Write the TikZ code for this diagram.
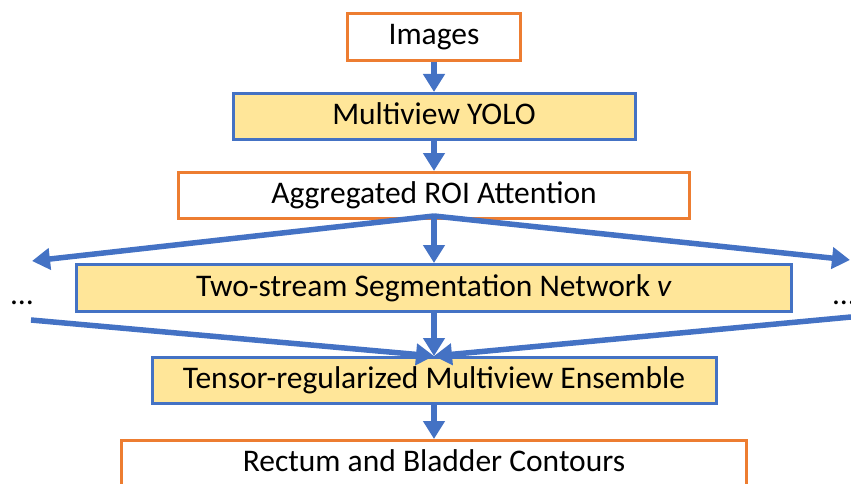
\documentclass[tikz,border=0pt]{standalone}
\usepackage{fontspec}
\setmainfont{Carlito}
\usetikzlibrary{arrows.meta,positioning,calc}
\definecolor{lineblue}{HTML}{4472C4}
\definecolor{edgeorange}{HTML}{ED7D31}
\definecolor{goldfill}{HTML}{FFE699}
\tikzset{
  wblk/.style={draw=edgeorange, fill=white, rectangle, line width=3pt, inner sep=0pt, minimum height=46pt, align=center, font=\fontsize{31.5}{38}\selectfont, text height=22pt, text depth=6pt},
  yblk/.style={wblk, draw=lineblue, fill=goldfill},
  arr/.style={-{Triangle[width=21pt, length=18pt]}, line width=5.5pt, draw=lineblue},
}
\begin{document}
\begin{tikzpicture}[x=1pt, y=-1pt]
\path[use as bounding box, clip] (0,0) rectangle (851,484);

% Pipeline stages
\node[wblk, minimum width=173pt, minimum height=47pt] (img) at (434,37) {Images};
\node[yblk, minimum width=402pt, below=30pt of img] (yolo) {Multiview YOLO};
\node[wblk, minimum width=511pt, below=30pt of yolo] (roi) {Aggregated ROI Attention};
\node[yblk, minimum width=715pt, minimum height=47pt, below=43pt of roi] (seg)
  {Two-stream Segmentation Network \textit{v}};
\node[yblk, minimum width=564pt, below=43pt of seg] (ens) {Tensor-regularized Multiview Ensemble};
\node[wblk, minimum width=625pt, below=34pt of ens] (out) {Rectum and Bladder Contours};

% Other views
\node[font=\fontsize{31.5}{38}\selectfont, anchor=base] (ldots) at (22,304) {…};
\node[font=\fontsize{31.5}{38}\selectfont, anchor=base] (rdots) at (844,304) {…};

% Fan out and merge points
\coordinate (fork) at ($(roi.south)+(0,-4)$);
\coordinate (lt) at (32,261);
\coordinate (rt) at (850,260);
\coordinate (lb) at (31,320);
\coordinate (rb) at (851,317);

\draw[arr] (img) -- (yolo);
\draw[arr] (yolo) -- (roi);
\draw[arr] (fork) -- (seg.north);
\draw[arr] (fork) -- (lt);
\draw[arr] (fork) -- (rt);
\draw[arr] (seg) -- (ens);
\draw[arr] (lb) -- (ens.north);
\draw[arr] (rb) -- (ens.north);
\draw[arr] (ens) -- (out);

\end{tikzpicture}
\end{document}
